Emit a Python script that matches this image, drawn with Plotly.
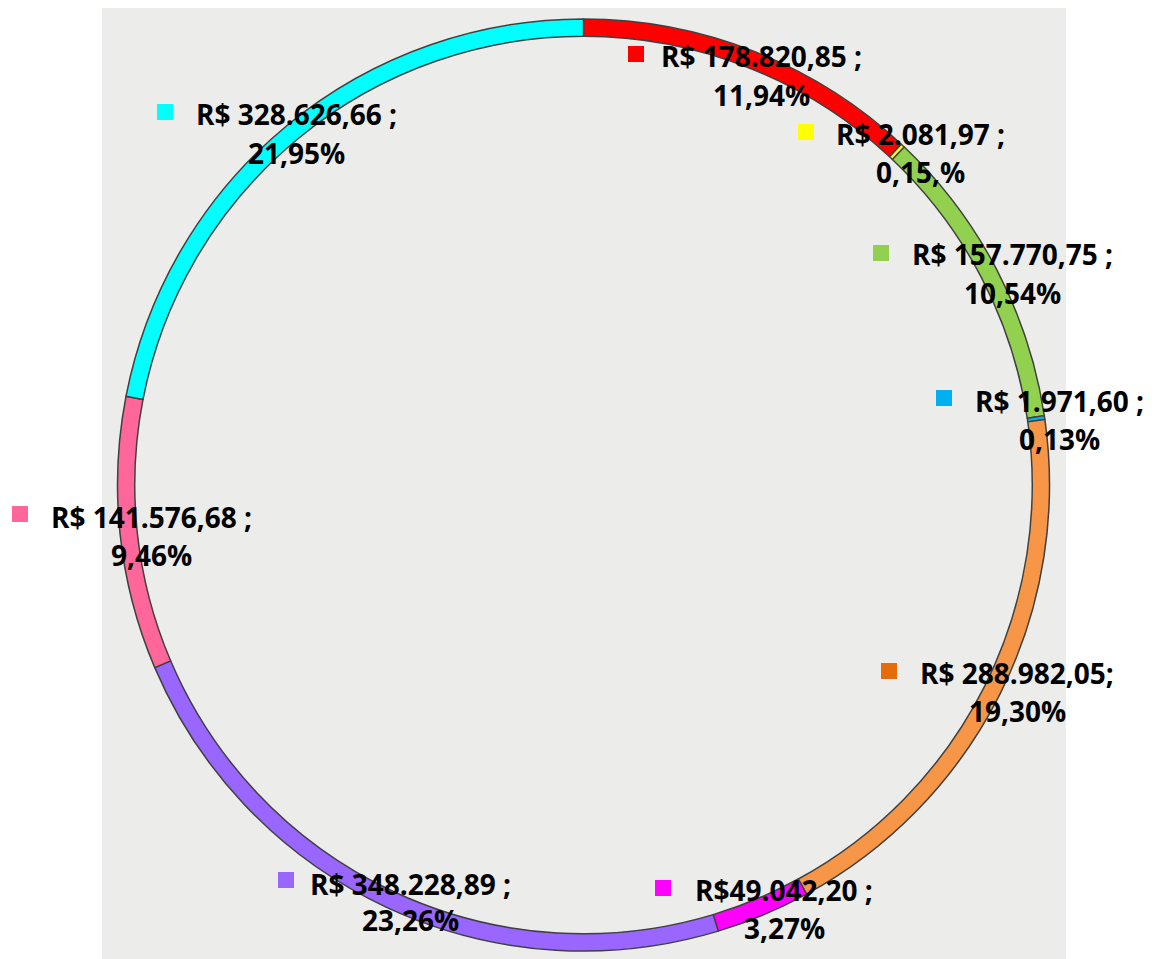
import plotly.graph_objects as go

# page body has an 8px default margin, so the figure is shrunk and coordinates are shifted
OFF = 8
W, H = 1156 - OFF, 959 - OFF

# ---- data ----
categories = ["Cat 1", "Cat 2", "Cat 3", "Cat 4", "Cat 5", "Cat 6", "Cat 7", "Cat 8", "Cat 9"]
values = [178820.85, 2081.97, 157770.75, 1971.60, 288982.05, 49042.20, 348228.89, 141576.68, 328626.66]
value_labels = ["R$ 178.820,85 ;", "R$ 2.081,97 ;", "R$ 157.770,75 ;", "R$ 1.971,60 ;",
                "R$ 288.982,05;", "R$49.042,20 ;", "R$ 348.228,89 ;", "R$ 141.576,68 ;",
                "R$ 328.626,66 ;"]
pct_labels = ["11,94%", "0,15,%", "10,54%", "0,13%", "19,30%", "3,27%", "23,26%", "9,46%", "21,95%"]

# ---- styles ----
ring_colors = ["#FF0000", "#FFFF00", "#92D050", "#00B0F0", "#F79646",
               "#FF00FF", "#9966FF", "#FF6699", "#00FFFF"]
square_colors = ["#FF0000", "#FFFF00", "#92D050", "#00B0F0", "#E46C0A",
                 "#FF00FF", "#9966FF", "#FF6699", "#00FFFF"]

# label layout (screen pixels): text block center x, line1 y, line2 y, square center x, square center y
label_pos = [
    (761, 56, 95, 636, 54),
    (920, 134, 172, 806, 132),
    (1012, 254, 293, 881, 253),
    (1059, 401, 439, 944, 398),
    (1017, 673, 711, 889, 671),
    (784, 890, 928, 663, 888),
    (410, 884, 920, 286, 880),
    (151, 517, 555, 20, 514),
    (296, 114, 153, 165, 112),
]

def px(x):
    return (x - OFF) / W

def py(y):
    return 1 - (y - OFF) / H

fig = go.Figure()
fig.add_trace(go.Pie(
    labels=categories,
    values=values,
    hole=0.963,
    sort=False,
    direction="clockwise",
    rotation=0,
    textinfo="none",
    hoverinfo="label+value+percent",
    marker=dict(colors=ring_colors, line=dict(color="#404040", width=1.5)),
    domain=dict(x=[px(117), px(1050)], y=[py(951), py(19)]),
    showlegend=False,
))

shapes = [dict(type="rect", xref="paper", yref="paper", x0=px(102), x1=px(1066),
               y0=0, y1=1, fillcolor="#ECECEA", line=dict(width=0), layer="below")]
annotations = []
font = dict(family="Open Sans", size=28, color="#000000", weight="bold")
for i, (cx, y1, y2, sx, sy) in enumerate(label_pos):
    annotations.append(dict(x=px(cx), y=py(y1), xref="paper", yref="paper", text=value_labels[i],
                            showarrow=False, xanchor="center", yanchor="middle", font=font))
    annotations.append(dict(x=px(cx), y=py(y2), xref="paper", yref="paper", text=pct_labels[i],
                            showarrow=False, xanchor="center", yanchor="middle", font=font))
    shapes.append(dict(type="rect", xref="paper", yref="paper", x0=px(sx - 8), x1=px(sx + 8),
                       y0=py(sy + 8), y1=py(sy - 8), fillcolor=square_colors[i],
                       line=dict(width=0), layer="above"))

fig.update_layout(
    width=W, height=H,
    margin=dict(l=0, r=0, t=0, b=0),
    paper_bgcolor="#FFFFFF",
    plot_bgcolor="#FFFFFF",
    shapes=shapes,
    annotations=annotations,
)

fig.write_html("out.html")
